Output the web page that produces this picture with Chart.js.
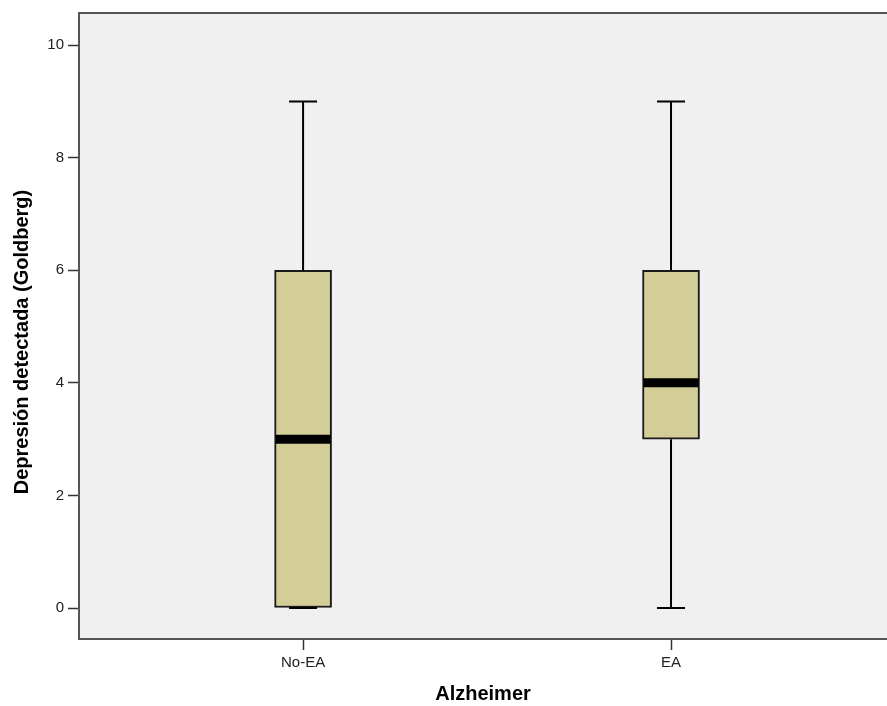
<!DOCTYPE html>
<html>
<head>
<meta charset="utf-8">
<script src="https://cdn.jsdelivr.net/npm/chart.js@4"></script>
<style>
    html, body { margin: 0; padding: 0; background: #ffffff; }
    #wrap { width: 887px; height: 706px; position: relative; }
</style>
</head>
<body>
<div id="wrap"><canvas id="boxChart"></canvas></div>
<script>
// Box plot data
const categories = ['No-EA', 'EA'];
const minValues = [0, 0];
const q1Values = [0, 3];
const medianValues = [3, 4];
const q3Values = [6, 6];
const maxValues = [9, 9];
const yTicks = [0, 2, 4, 6, 8, 10];
const yTitle = 'Depresión detectada (Goldberg)';

const positions = categories.map((c, i) => i + 1);

// Background, whiskers, caps, medians and the y title
const boxExtras = {
    id: 'boxExtras',
    beforeDraw(chart) {
        const { ctx, chartArea: a } = chart;
        ctx.save();
        ctx.fillStyle = '#f0f0f0';
        ctx.fillRect(a.left, a.top, a.right - a.left, a.bottom - a.top);
        ctx.restore();
    },
    afterDatasetsDraw(chart) {
        const { ctx, scales: { x, y } } = chart;
        ctx.save();
        ctx.strokeStyle = '#000000';
        positions.forEach((p, i) => {
            const cx = x.getPixelForValue(p);
            const capHalf = 14;
            ctx.lineWidth = 2;
            ctx.beginPath();
            // upper whisker
            ctx.moveTo(cx, y.getPixelForValue(q3Values[i]));
            ctx.lineTo(cx, y.getPixelForValue(maxValues[i]));
            ctx.moveTo(cx - capHalf, y.getPixelForValue(maxValues[i]));
            ctx.lineTo(cx + capHalf, y.getPixelForValue(maxValues[i]));
            // lower whisker
            ctx.moveTo(cx, y.getPixelForValue(q1Values[i]));
            ctx.lineTo(cx, y.getPixelForValue(minValues[i]));
            ctx.moveTo(cx - capHalf, y.getPixelForValue(minValues[i]));
            ctx.lineTo(cx + capHalf, y.getPixelForValue(minValues[i]));
            ctx.stroke();
            // median
            const bar = chart.getDatasetMeta(0).data[i];
            ctx.lineWidth = 9;
            ctx.beginPath();
            ctx.moveTo(bar.x - bar.width / 2 + 1, y.getPixelForValue(medianValues[i]));
            ctx.lineTo(bar.x + bar.width / 2 - 1, y.getPixelForValue(medianValues[i]));
            ctx.stroke();
        });
        ctx.restore();
    },
    afterDraw(chart) {
        const { ctx, chartArea: a } = chart;
        ctx.save();
        ctx.strokeStyle = '#555555';
        ctx.lineWidth = 2;
        ctx.beginPath();
        ctx.moveTo(a.left, a.top);
        ctx.lineTo(a.right, a.top);
        ctx.stroke();
        // y axis title, sits a little below the plot centre in the original
        ctx.translate(22, (a.top + a.bottom) / 2 + 16);
        ctx.rotate(-Math.PI / 2);
        ctx.fillStyle = '#000000';
        ctx.font = 'bold 20px "Liberation Sans"';
        ctx.textAlign = 'center';
        ctx.textBaseline = 'middle';
        ctx.fillText(yTitle, 0, 0);
        ctx.restore();
    }
};

const ctx = document.getElementById('boxChart').getContext('2d');
new Chart(ctx, {
    type: 'bar',
    data: {
        datasets: [{
            label: yTitle,
            data: positions.map((p, i) => ({ x: p, y: [q1Values[i], q3Values[i]] })),
            backgroundColor: '#d3ce97',
            borderColor: '#1a1a1a',
            borderWidth: 2,
            borderSkipped: false,
            barThickness: 57
        }]
    },
    options: {
        responsive: true,
        maintainAspectRatio: false,
        animation: false,
        layout: { padding: { top: 10, right: 0, left: 0, bottom: 0 } },
        plugins: {
            legend: { display: false },
            tooltip: { enabled: false }
        },
        scales: {
            x: {
                type: 'linear',
                offset: false,
                min: 0.391,
                max: 2.587,
                afterBuildTicks: (scale) => {
                    scale.ticks = positions.map(v => ({ value: v }));
                },
                afterFit: (scale) => { scale.height = 67; },
                ticks: {
                    color: '#222222',
                    font: { family: 'Liberation Sans', size: 15 },
                    padding: 4,
                    callback: (value) => categories[value - 1] || ''
                },
                grid: {
                    offset: false,
                    drawOnChartArea: false,
                    drawTicks: true,
                    tickLength: 11,
                    tickColor: '#333333',
                    tickWidth: 1.5
                },
                border: { color: '#555555', width: 2 },
                title: {
                    display: true,
                    text: 'Alzheimer',
                    color: '#000000',
                    font: { family: 'Liberation Sans', size: 20, weight: 'bold' },
                    padding: { top: 0, bottom: 0 }
                }
            },
            y: {
                min: -0.55,
                max: 10.57,
                afterBuildTicks: (scale) => {
                    scale.ticks = yTicks.map(v => ({ value: v }));
                },
                afterFit: (scale) => { scale.width = 79; },
                ticks: {
                    color: '#222222',
                    font: { family: 'Liberation Sans', size: 15 },
                    padding: 4
                },
                grid: {
                    drawOnChartArea: false,
                    drawTicks: true,
                    tickLength: 11,
                    tickColor: '#333333',
                    tickWidth: 1.5
                },
                border: { color: '#555555', width: 2 }
            }
        }
    },
    plugins: [boxExtras]
});
</script>
</body>
</html>
